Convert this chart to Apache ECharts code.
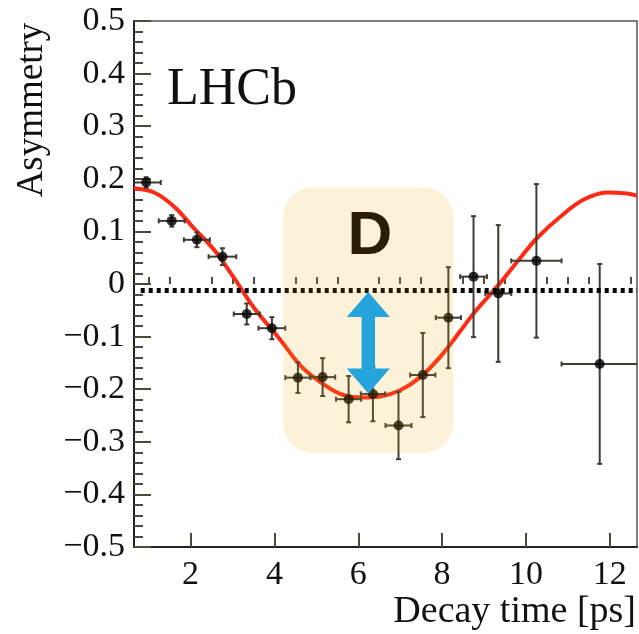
<!DOCTYPE html>
<html>
<head>
<meta charset="utf-8">
<script src="https://cdn.jsdelivr.net/npm/echarts@6/dist/echarts.min.js"></script>
<style>
  html, body { margin: 0; padding: 0; background: #fff; }
  #chart { width: 639px; height: 634px; }
</style>
</head>
<body>
<div id="chart"></div>
<script>
// measured points: decay time, asymmetry and their errors
const time = [0.94, 1.55, 2.15, 2.76, 3.34, 3.94, 4.56, 5.15, 5.77, 6.35, 6.96, 7.54, 8.15, 8.75, 9.34, 10.25, 11.76]
const asym = [0.193, 0.120, 0.084, 0.052, -0.057, -0.084, -0.178, -0.177, -0.219, -0.209, -0.269, -0.173, -0.064, 0.014, -0.018, 0.044, -0.152]
const timeErr = [0.35, 0.31, 0.31, 0.33, 0.31, 0.32, 0.30, 0.30, 0.30, 0.29, 0.31, 0.30, 0.30, 0.32, 0.31, 0.60, 0.91]
const asymErr = [0.010, 0.011, 0.014, 0.016, 0.020, 0.021, 0.029, 0.036, 0.044, 0.052, 0.064, 0.080, 0.096, 0.115, 0.130, 0.146, 0.190]

// fit curve
const fitTime = [0.65, 1.13, 1.61, 2.08, 2.56, 3.04, 3.52, 4.14, 4.61, 5.09, 5.57, 6.05, 6.52, 7.00, 7.48, 7.96, 8.43, 8.75, 9.31, 9.86, 10.26, 10.82, 11.37, 11.93, 12.41, 12.65]
const fitAsym = [0.182, 0.174, 0.147, 0.106, 0.065, 0.011, -0.046, -0.106, -0.154, -0.186, -0.209, -0.216, -0.214, -0.202, -0.177, -0.138, -0.090, -0.056, -0.005, 0.049, 0.087, 0.128, 0.160, 0.174, 0.172, 0.168]

// zero-ish reference line
const refLevel = -0.012
const refTime = [0.81, 12.65]

// highlight box and the "D" arrow
const boxTime = [4.21, 8.27]
const boxAsym = [-0.322, 0.184]
const arrowTime = 6.24
const arrowAsym = [-0.015, -0.208]
const labelTime = 6.28
const labelAsym = 0.090

// tick labels
const majorTicks = [2, 4, 6, 8, 10, 12]
const minorTicks = [1, 1.5, 2.5, 3, 3.5, 4.5, 5, 5.5, 6.5, 7, 7.5, 8.5, 9, 9.5, 10.5, 11, 11.5, 12.5]

const serif = '"Liberation Serif", serif'
const tickColor = '#4d4a3c'

const chart = echarts.init(document.getElementById('chart'))

const option = {
  backgroundColor: '#fff',
  animation: false,
  grid: {
    left: 134, top: 21, right: 2, bottom: 87,
    show: true, borderColor: '#555', borderWidth: 1.5, backgroundColor: '#fff'
  },
  xAxis: [
    {
      type: 'value', min: 0.65, max: 12.65, position: 'bottom',
      axisLine: { show: true, onZero: false, lineStyle: { color: '#222', width: 2 } },
      axisTick: { show: true, inside: true, length: 14, customValues: majorTicks, lineStyle: { color: tickColor, width: 2 } },
      axisLabel: { customValues: majorTicks, margin: 11, color: '#111', fontFamily: serif, fontSize: 34 },
      splitLine: { show: false }
    },
    {
      type: 'value', min: 0.65, max: 12.65, position: 'bottom',
      axisLine: { show: false },
      axisTick: { show: true, inside: true, length: 7, customValues: minorTicks, lineStyle: { color: tickColor, width: 2 } },
      axisLabel: { show: false },
      splitLine: { show: false }
    }
  ],
  yAxis: {
    type: 'value', min: -0.5, max: 0.5, interval: 0.1,
    axisLine: { show: true, onZero: false, lineStyle: { color: '#222', width: 2 } },
    axisTick: { show: true, inside: true, length: 17, lineStyle: { color: tickColor, width: 2 } },
    minorTick: { show: true, splitNumber: 5, length: 9, lineStyle: { color: tickColor, width: 2 } },
    axisLabel: {
      margin: 9, color: '#111', fontFamily: serif, fontSize: 34,
      formatter: v => {
        const r = Math.round(v * 10) / 10
        if (r === 0) return '0'
        return (r < 0 ? '\u2212' : '') + Math.abs(r).toFixed(1)
      }
    },
    splitLine: { show: false },
    minorSplitLine: { show: false }
  },
  series: [
    {
      // fit
      type: 'line',
      data: fitTime.map((t, i) => [t, fitAsym[i]]),
      smooth: 0.35,
      showSymbol: false,
      lineStyle: { color: '#ff2a14', width: 4 },
      z: 3,
      markLine: {
        silent: true,
        symbol: 'none',
        label: { show: false },
        lineStyle: { color: '#000', width: 5, type: [4, 4] },
        data: [[{ coord: [refTime[0], refLevel] }, { coord: [refTime[1], refLevel] }]]
      }
    },
    {
      // error bars
      type: 'custom',
      clip: true,
      z: 4,
      data: time.map((t, i) => [t, asym[i], timeErr[i], asymErr[i]]),
      renderItem(params, api) {
        const t = api.value(0), a = api.value(1), dt = api.value(2), da = api.value(3)
        const l = api.coord([t - dt, a]), r = api.coord([t + dt, a])
        const up = api.coord([t, a + da]), dn = api.coord([t, a - da])
        const st = { stroke: '#3f3c33', lineWidth: 2 }
        const cap = 2.5
        return {
          type: 'group',
          children: [
            { type: 'line', shape: { x1: l[0], y1: l[1], x2: r[0], y2: r[1] }, style: st },
            { type: 'line', shape: { x1: up[0], y1: up[1], x2: dn[0], y2: dn[1] }, style: st },
            { type: 'line', shape: { x1: l[0], y1: l[1] - cap, x2: l[0], y2: l[1] + cap }, style: st },
            { type: 'line', shape: { x1: r[0], y1: r[1] - cap, x2: r[0], y2: r[1] + cap }, style: st },
            { type: 'line', shape: { x1: up[0] - cap, y1: up[1], x2: up[0] + cap, y2: up[1] }, style: st },
            { type: 'line', shape: { x1: dn[0] - cap, y1: dn[1], x2: dn[0] + cap, y2: dn[1] }, style: st }
          ]
        }
      }
    },
    {
      // points
      type: 'scatter',
      data: time.map((t, i) => [t, asym[i]]),
      symbolSize: 10,
      itemStyle: { color: '#000' },
      z: 5
    },
    {
      // highlight box on top
      type: 'custom',
      z: 6,
      data: [[boxTime[0], boxTime[1], boxAsym[0], boxAsym[1]]],
      renderItem(params, api) {
        const p1 = api.coord([api.value(0), api.value(3)])
        const p2 = api.coord([api.value(1), api.value(2)])
        return {
          type: 'rect',
          shape: { x: p1[0], y: p1[1], width: p2[0] - p1[0], height: p2[1] - p1[1], r: 30 },
          style: { fill: 'rgba(235,170,10,0.15)' }
        }
      }
    },
    {
      // double arrow and D label
      type: 'custom',
      z: 7,
      data: [[arrowTime, arrowAsym[0], arrowAsym[1], labelTime, labelAsym]],
      renderItem(params, api) {
        const top = api.coord([api.value(0), api.value(1)])
        const bot = api.coord([api.value(0), api.value(2)])
        const lab = api.coord([api.value(3), api.value(4)])
        const x = top[0], hw = 21.5, hl = 25, sw = 6.7
        const pts = [
          [x, top[1]], [x + hw, top[1] + hl], [x + sw, top[1] + hl], [x + sw, bot[1] - hl],
          [x + hw, bot[1] - hl], [x, bot[1]], [x - hw, bot[1] - hl], [x - sw, bot[1] - hl],
          [x - sw, top[1] + hl], [x - hw, top[1] + hl]
        ]
        return {
          type: 'group',
          children: [
            { type: 'polygon', shape: { points: pts }, style: { fill: '#24a4db' } },
            {
              type: 'text', x: lab[0], y: lab[1],
              style: {
                text: 'D', fill: '#2a1d05', font: 'bold 62px "Liberation Sans"',
                align: 'center', verticalAlign: 'middle', textAlign: 'center', textVerticalAlign: 'middle'
              }
            }
          ]
        }
      }
    }
  ],
  graphic: [
    {
      type: 'text', x: 167, y: 90, z: 10,
      style: {
        text: 'LHCb', fill: '#111', font: '52px "Liberation Serif"',
        align: 'left', verticalAlign: 'middle', textAlign: 'left', textVerticalAlign: 'middle'
      }
    },
    {
      type: 'text', x: 32, y: 110, rotation: Math.PI / 2, z: 10,
      style: {
        text: 'Asymmetry', fill: '#111', font: '37px "Liberation Serif"',
        align: 'center', verticalAlign: 'middle', textAlign: 'center', textVerticalAlign: 'middle'
      }
    },
    {
      type: 'text', x: 636, y: 612, z: 10,
      style: {
        text: 'Decay time [ps]', fill: '#111', font: '38px "Liberation Serif"',
        align: 'right', verticalAlign: 'middle', textAlign: 'right', textVerticalAlign: 'middle'
      }
    }
  ]
}

chart.setOption(option)
</script>
</body>
</html>
